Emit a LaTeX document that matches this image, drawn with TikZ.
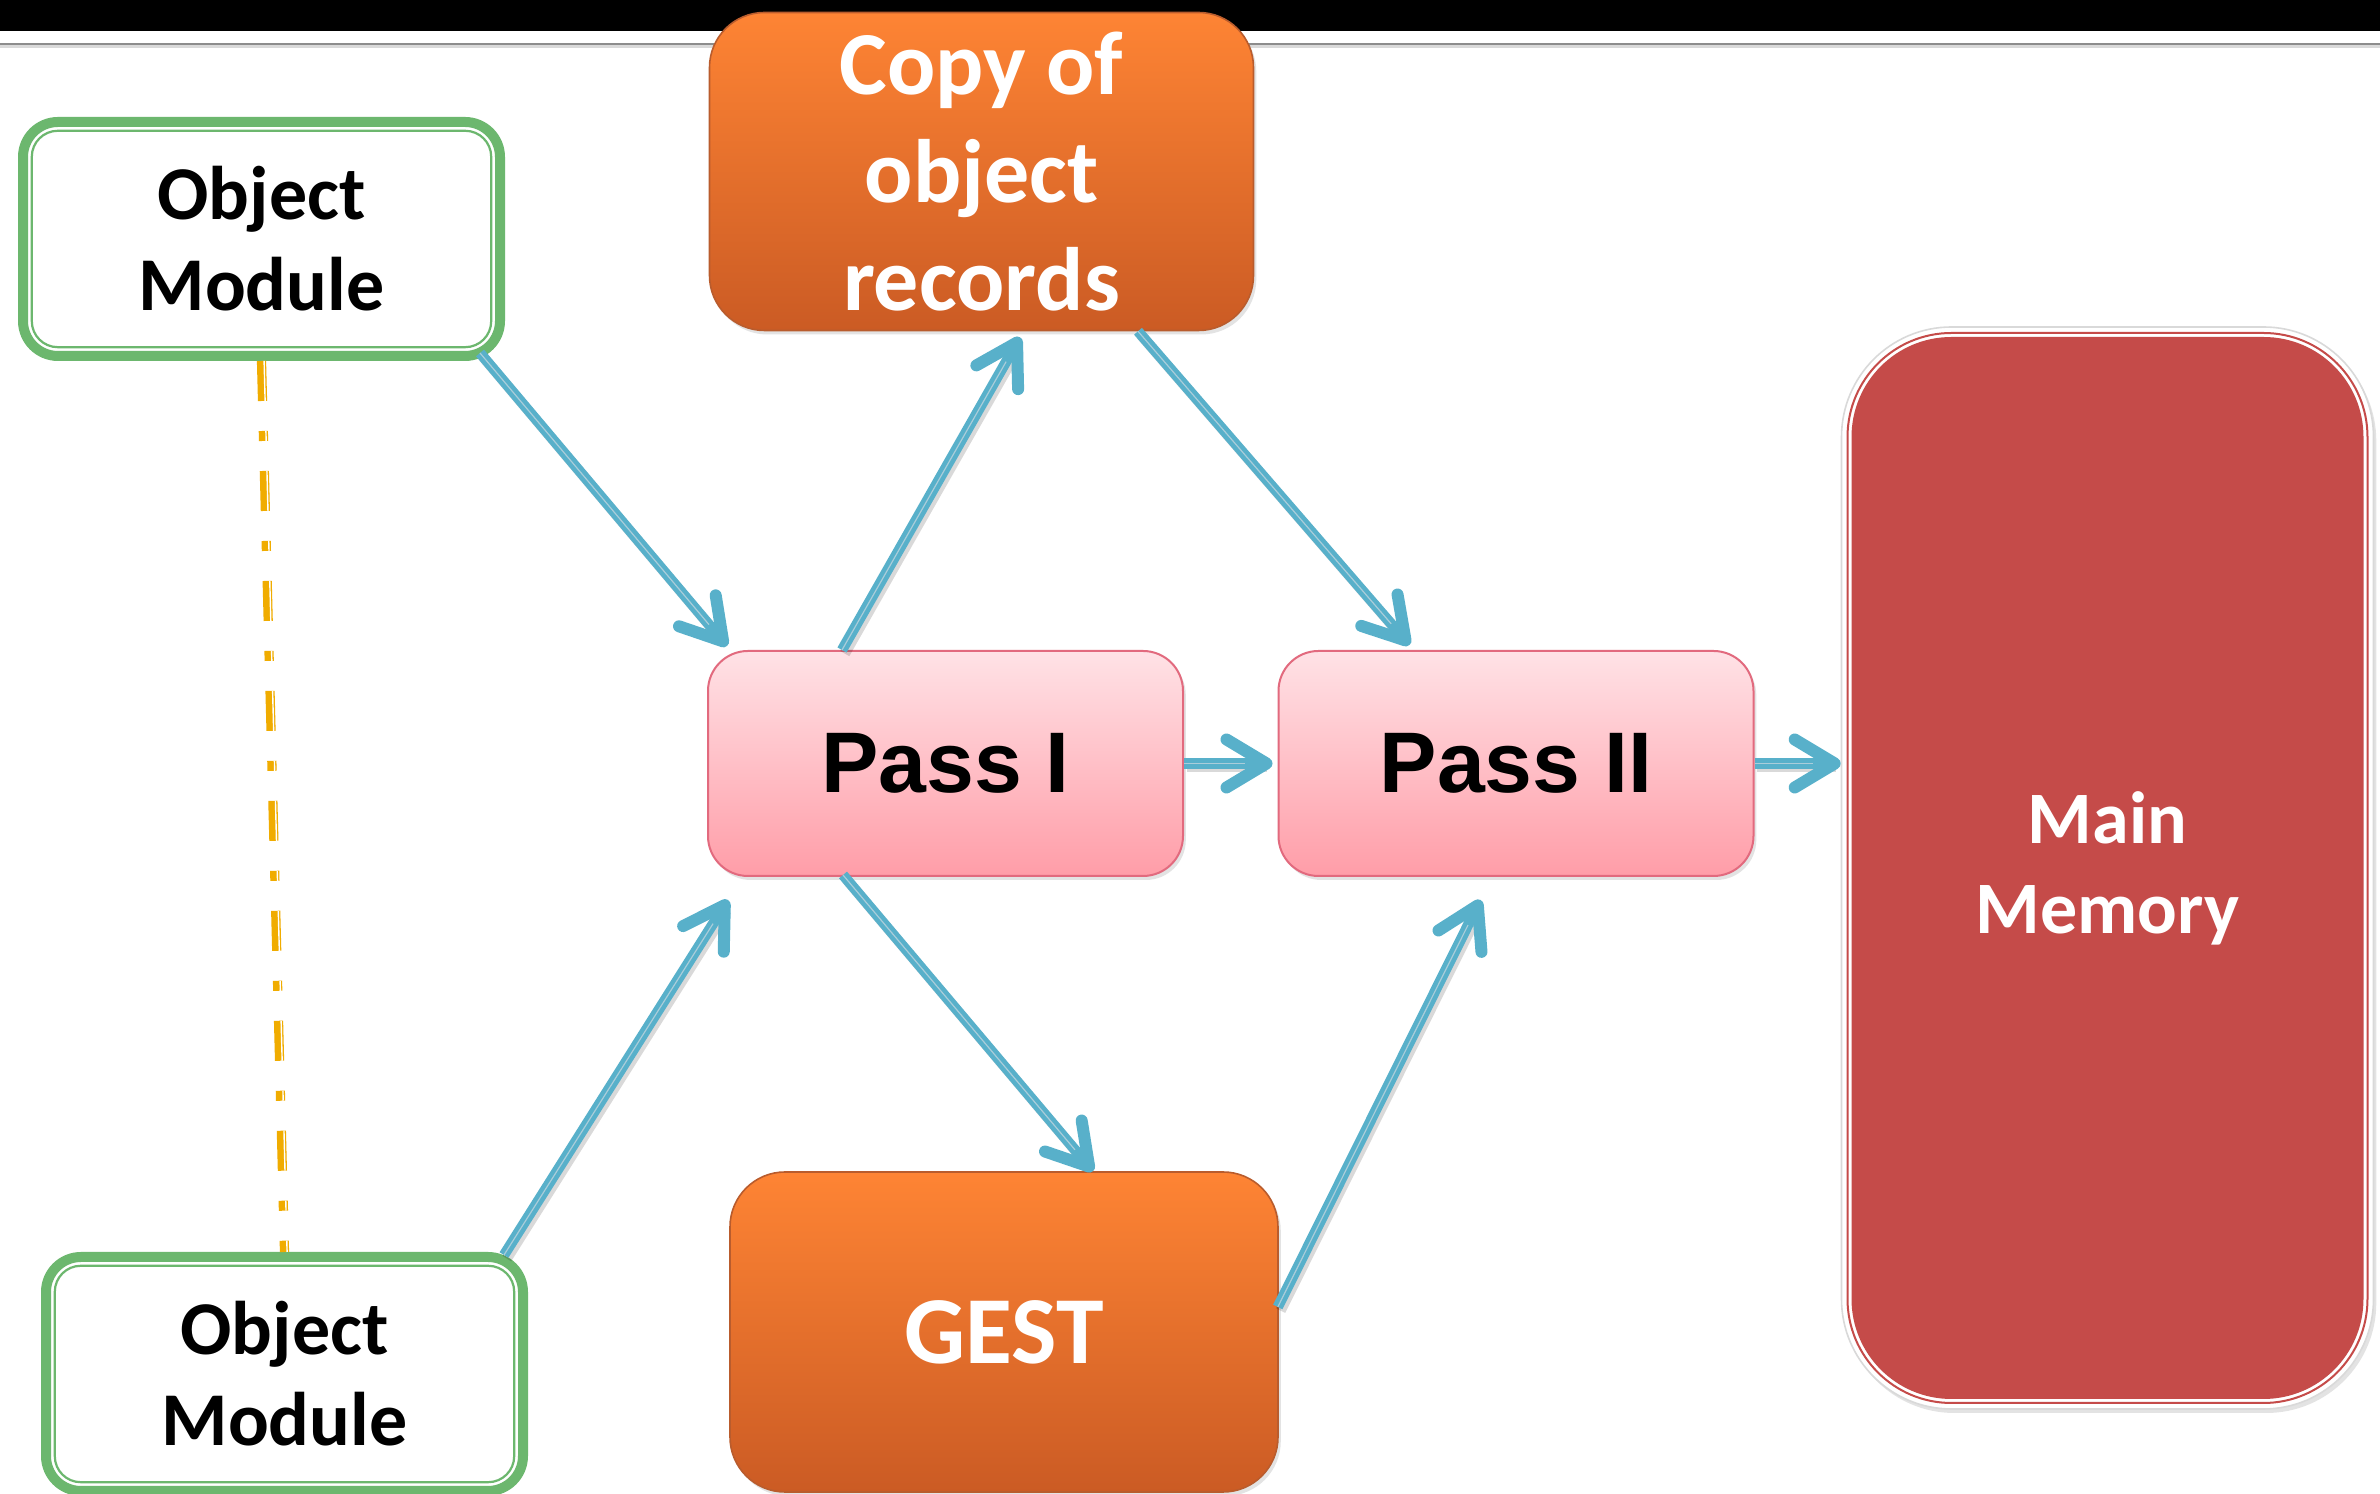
\documentclass[tikz,border=0pt]{standalone}
\usepackage{fontspec}
\setmainfont{Carlito}
\newfontfamily\passfont{Liberation Sans}
\usetikzlibrary{arrows.meta,calc,shadows}

\definecolor{flowblue}{RGB}{88,176,202}
\definecolor{flowstripe}{RGB}{170,205,218}
\definecolor{modgreen}{RGB}{108,183,110}
\definecolor{linkgold}{RGB}{240,172,0}
\definecolor{orangetop}{RGB}{254,132,52}
\definecolor{orangebot}{RGB}{203,91,36}
\definecolor{orangeedge}{RGB}{185,92,45}
\definecolor{pinktop}{RGB}{255,226,230}
\definecolor{pinkbot}{RGB}{255,157,168}
\definecolor{pinkedge}{RGB}{226,106,126}
\definecolor{memred}{RGB}{197,75,73}

\tikzset{
  softshadow/.style={drop shadow={opacity=0.22, shadow xshift=0.7pt, shadow yshift=-1pt}},
  module/.style={rounded corners=8.75pt, draw=modgreen, line width=2.5pt, fill=white,
    minimum width=119.25pt, minimum height=58.5pt, inner sep=0pt, align=center,
    font={\bfseries\fontsize{19}{22.75}\selectfont},
    path picture={\draw[modgreen, line width=0.55pt, rounded corners=6.5pt]
      ([shift={(2.2pt,2.2pt)}]path picture bounding box.south west) rectangle
      ([shift={(-2.2pt,-2.2pt)}]path picture bounding box.north east);}},
  store/.style={rounded corners=13.75pt, top color=orangetop, bottom color=orangebot,
    draw=orangeedge, line width=0.4pt, inner sep=0pt, align=center, text=white, softshadow},
  passbox/.style={rounded corners=10pt, top color=pinktop, bottom color=pinkbot,
    draw=pinkedge, line width=0.5pt, minimum width=118.75pt, minimum height=56.25pt,
    inner sep=0pt, font={\passfont\bfseries\fontsize{21.5}{26}\selectfont}, softshadow},
  memory/.style={rounded corners=27.5pt, fill=white, draw=black!15, line width=0.4pt,
    minimum width=133pt, minimum height=270.5pt, inner sep=0pt, align=center, text=white,
    font={\bfseries\fontsize{18.5}{22.5}\selectfont}, softshadow,
    path picture={
      \draw[memred, line width=0.5pt, rounded corners=26pt]
        ([shift={(1.5pt,1.5pt)}]path picture bounding box.south west) rectangle
        ([shift={(-1.5pt,-1.5pt)}]path picture bounding box.north east);
      \fill[memred, rounded corners=25pt]
        ([shift={(2.5pt,2.5pt)}]path picture bounding box.south west) rectangle
        ([shift={(-2.5pt,-2.5pt)}]path picture bounding box.north east);}},
  flow/.style={draw=flowblue, line width=2.6pt,
    -{Straight Barb[length=10pt,width=12pt,line width=3pt,round]},
    preaction={draw=black, draw opacity=0.15, line width=2.6pt, -, shorten >=2pt,
      transform canvas={shift={(0.7pt,-0.9pt)}}},
    postaction={draw=flowstripe, line width=0.3pt, -, shorten >=7pt}},
  linkpattern/.style={dash pattern=on 10pt off 7.5pt on 2.5pt off 7.5pt},
  linkdash/.style={line width=2.3pt, linkpattern}
}

\begin{document}
\begin{tikzpicture}[x=0.25pt,y=-0.25pt]
\useasboundingbox (0,0) rectangle (2380,1494);
\fill[white] (0,0) rectangle (2380,1494);

% title bar and rule
\fill[black] (0,0) rectangle (2380,31);
\draw[black!45, line width=0.7pt] (0,44) -- (2380,44);
\draw[black!15, line width=0.6pt] (0,46.5) -- (2380,46.5);

% nodes
\node[module] (om1) at (261.5,239) {Object\\Module};
\node[module] (om2) at (284.5,1374) {Object\\Module};

\node[store, minimum width=136pt, minimum height=79.5pt,
  font={\bfseries\fontsize{22.5}{27}\selectfont}] (copy) at (981.5,171.5)
  {Copy of\\object\\records};
\node[store, minimum width=137pt, minimum height=80pt,
  font={\bfseries\fontsize{24}{28}\selectfont}] (gest) at (1004,1332) {GEST};

\node[passbox] (pass1) at (945.5,763.5) {Pass I};
\node[passbox] (pass2) at (1516,763.5) {Pass II};

\node[memory] (mm) at (2107.5,868) {Main\\Memory};

% link between the two object modules
\draw[linkgold, linkdash] (om1.south) -- (om2.north);
\draw[white, line width=0.35pt, linkpattern]
  ([xshift=0.65pt]om1.south) -- ([xshift=0.65pt]om2.north);

% data flow
\draw[flow] ($(om1.south east)+(-25,-8)$) -- ($(pass1.north west)+(20,-4)$);
\draw[flow] ($(pass1.north west)+(135,0)$) -- ($(copy.south)+(38.5,6)$);
\draw[flow] ($(copy.south)+(156.5,0)$) -- ($(pass2.north west)+(132,-5)$);
\draw[flow] (pass1.east) -- ($(pass2.west)+(-5,0)$);
\draw[flow] (pass2.east) -- (pass2.east -| mm.west);
\draw[flow] ($(pass1.south west)+(136,-2)$) -- ($(gest.north)+(89,0)$);
\draw[flow] ($(om2.north east)+(-24,3)$) -- ($(pass1.south west)+(21,23)$);
\draw[flow] ($(gest.east)+(-1,-25)$) -- ($(pass2.south west)+(203,23)$);
\end{tikzpicture}
\end{document}
